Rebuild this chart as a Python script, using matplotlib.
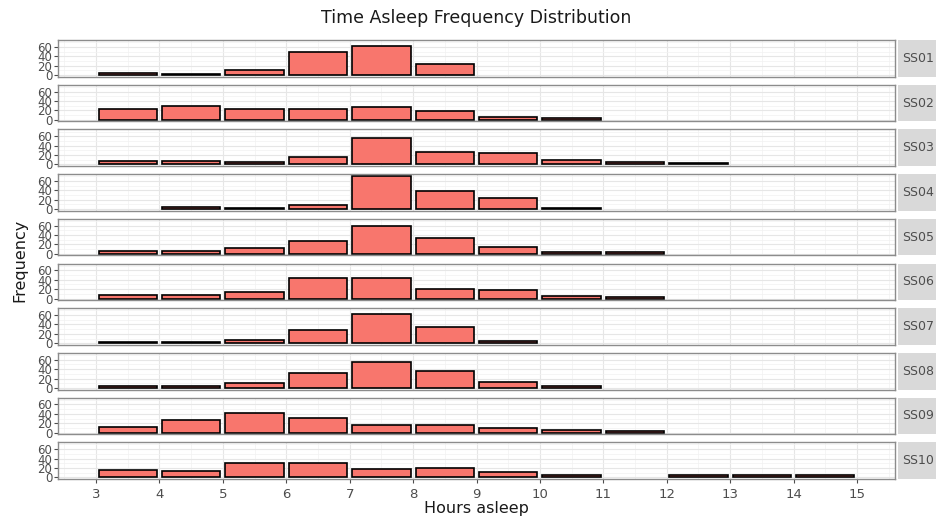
import matplotlib
matplotlib.use("Agg")
import matplotlib.pyplot as plt
from matplotlib.patches import Rectangle
import numpy as np

# hour bins (left edges) and counts per subject
bin_left = [3, 4, 5, 6, 7, 8, 9, 10, 11, 12, 13, 14]
subjects = ["SS01", "SS02", "SS03", "SS04", "SS05", "SS06", "SS07", "SS08", "SS09", "SS10"]
ss01 = [4, 3, 10, 49, 61, 23, 0, 0, 0, 0, 0, 0]
ss02 = [23, 30, 23, 22, 28, 18, 5, 3, 0, 0, 0, 0]
ss03 = [8, 8, 5, 16, 56, 27, 25, 9, 5, 2, 0, 0]
ss04 = [0, 5, 3, 9, 71, 39, 24, 3, 0, 0, 0, 0]
ss05 = [5, 5, 12, 27, 59, 33, 15, 3, 3, 0, 0, 0]
ss06 = [8, 8, 13, 43, 43, 20, 18, 5, 4, 0, 0, 0]
ss07 = [3, 3, 6, 29, 63, 35, 5, 0, 0, 0, 0, 0]
ss08 = [5, 4, 10, 32, 56, 37, 12, 4, 0, 0, 0, 0]
ss09 = [11, 27, 41, 32, 16, 17, 10, 6, 4, 0, 0, 0]
ss10 = [16, 13, 30, 31, 18, 20, 12, 6, 0, 5, 4, 4]
counts = [ss01, ss02, ss03, ss04, ss05, ss06, ss07, ss08, ss09, ss10]

x_ticks = list(range(3, 16))
y_ticks = [0, 20, 40, 60]

fill = "#F8766D"
W, H = 936, 519
fig, axes = plt.subplots(len(subjects), 1, figsize=(W / 100, H / 100), dpi=100, sharex=True)
fig.subplots_adjust(left=58 / W, right=895 / W, top=1 - 40 / H, bottom=1 - 479 / H, hspace=0.22)

ymax = max(max(c) for c in counts)
for ax, name, c in zip(axes, subjects, counts):
    ax.set_facecolor("white")
    ax.set_xlim(2.4, 15.6)
    ax.set_ylim(-0.05 * ymax, 1.05 * ymax)
    ax.set_xticks(x_ticks)
    ax.set_xticks(np.arange(2.5, 15.6, 1), minor=True)
    ax.set_yticks(y_ticks)
    ax.set_yticks([10, 30, 50, 70], minor=True)
    ax.grid(True, which="major", color="#e6e6e6", linewidth=0.8)
    ax.grid(True, which="minor", color="#f2f2f2", linewidth=0.5)
    ax.set_axisbelow(True)
    # zero-count bins are left out
    xs = [b + 0.5 for b, v in zip(bin_left, c) if v > 0]
    hs = [v for v in c if v > 0]
    ax.bar(xs, hs, width=0.92, color=fill, edgecolor="black", linewidth=1.2)
    for s in ax.spines.values():
        s.set_color("#8c8c8c")
        s.set_linewidth(1.0)
    ax.tick_params(axis="y", which="major", labelsize=8.5, labelcolor="#4d4d4d",
                   color="#4d4d4d", length=3, pad=1)
    ax.tick_params(axis="both", which="minor", length=0)
    ax.tick_params(axis="x", which="major", labelsize=9.5, labelcolor="#4d4d4d",
                   color="#4d4d4d", length=3)
    # facet strip on the right
    ax.add_patch(Rectangle((1.003, 0), 41 / 837, 1, transform=ax.transAxes,
                           facecolor="#d9d9d9", edgecolor="none", clip_on=False))
    ax.text(1.003 + 20.5 / 837, 0.5, name, transform=ax.transAxes, ha="center",
            va="center", fontsize=9, color="#4d4d4d")

for ax in axes[:-1]:
    ax.tick_params(axis="x", which="major", length=0)

fig.suptitle("Time Asleep Frequency Distribution", x=476 / W, y=1 - 18 / H,
             va="center", fontsize=12.5, color="#1a1a1a")
fig.text(476 / W, 1 - 508 / H, "Hours asleep", ha="center", va="center",
         fontsize=11.5, color="#1a1a1a")
fig.text(20 / W, 1 - 260 / H, "Frequency", ha="center", va="center",
         rotation=90, fontsize=11.5, color="#1a1a1a")

fig.savefig("out.png", dpi=100)
